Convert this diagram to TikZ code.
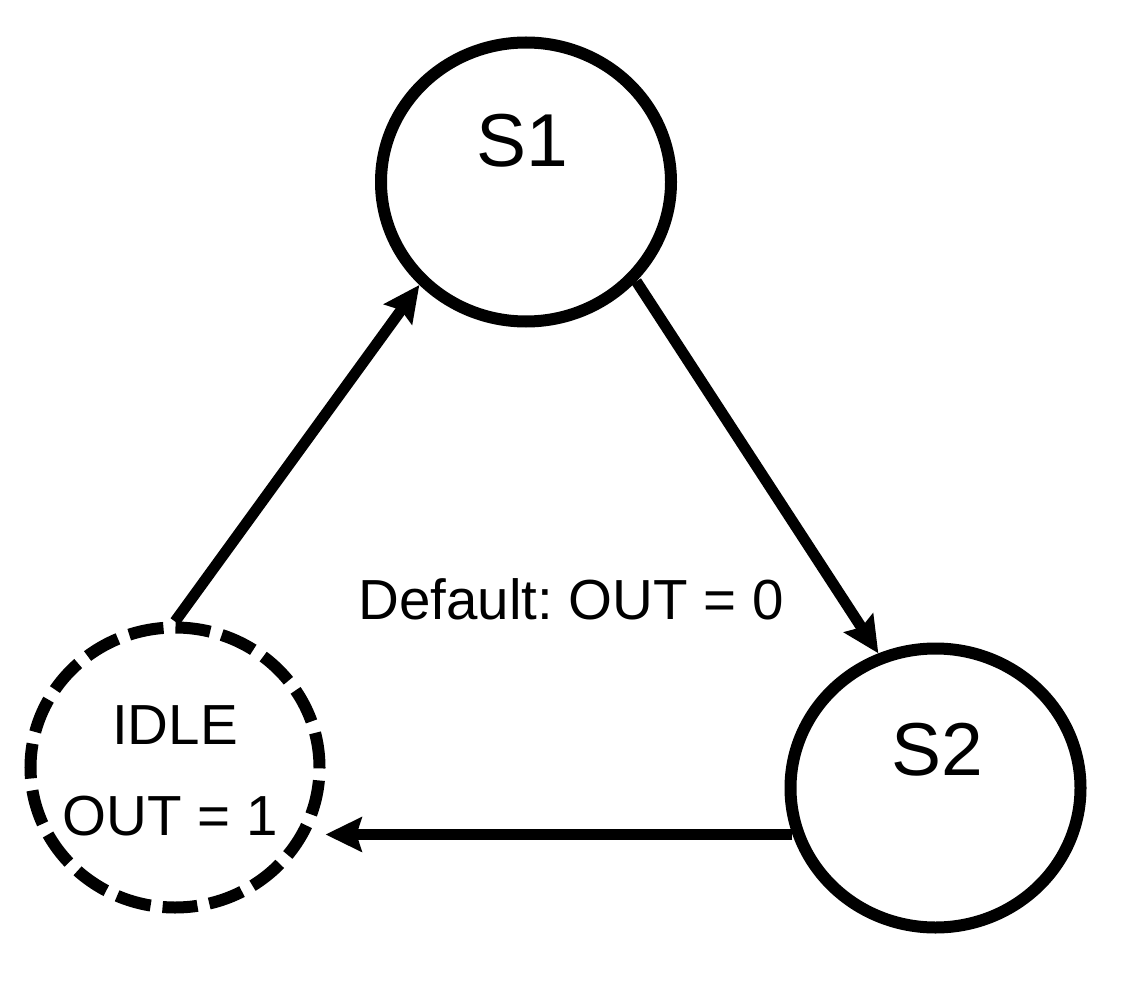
\documentclass[tikz,border=0pt]{standalone}
\usepackage{fontspec}
\setmainfont{Liberation Sans}
\usetikzlibrary{shapes.geometric,arrows.meta}
\begin{document}
\begin{tikzpicture}[x=1pt,y=-1pt,
  state/.style={ellipse,draw=black,line width=12pt,minimum width=290pt,minimum height=279pt,inner sep=0pt},
  idlestate/.style={state,dash pattern=on 35pt off 12pt,minimum width=289pt,minimum height=280pt},
  bigtxt/.style={inner sep=0pt,font=\fontsize{75}{80}\selectfont},
  smalltxt/.style={inner sep=0pt,font=\fontsize{56.5}{62}\selectfont},
  arr/.style={line width=11pt,-{Stealth[length=36pt,width=34pt,inset=5pt]}}]
\useasboundingbox (0,0) rectangle (1127,1000);
\node[state] (s1) at (526,182) {};
\node[state] (s2) at (935.5,788) {};
\node[idlestate] (idle) at (175,767.5) {};
\node[bigtxt] (s1t) at (522,141) {S1};
\node[bigtxt] (s2t) at (937,750) {S2};
\node[smalltxt] (idlet) at (175,725) {IDLE};
\node[smalltxt] (outt) at (170,816) {OUT = 1};
\node[smalltxt] (deft) at (571,599) {Default:\ OUT\ =\ 0};
\draw[arr] (idle.north) -- (s1.224);
\draw[arr] (s1.318) -- (s2.113);
\draw[arr] (s2.198) -- (s2.198 -| idle.east);
\end{tikzpicture}
\end{document}
